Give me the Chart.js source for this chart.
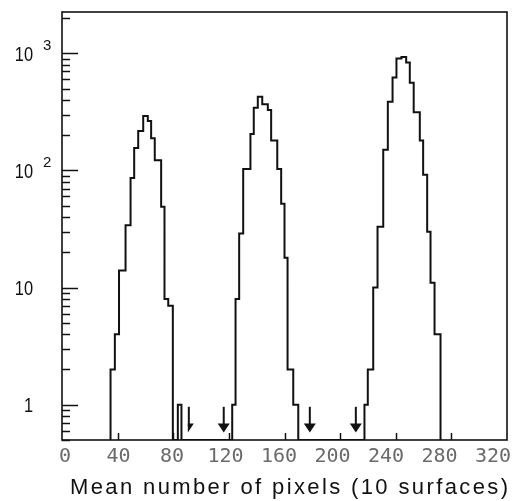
<!DOCTYPE html>
<html>
<head>
<meta charset="utf-8">
<title>Mean number of pixels (10 surfaces)</title>
<script src="https://cdn.jsdelivr.net/npm/chart.js@4.4.0/dist/chart.umd.min.js"></script>
<style>
  html, body { margin: 0; padding: 0; background: #fff; }
</style>
</head>
<body>
<canvas id="canvas" width="517" height="501"></canvas>
<script>
// histogram bins: left/right edges and counts per bin
var peak1Edges = [34.9, 38.0, 41.0, 45.7, 49.3, 51.9, 54.8, 58.4, 61.7, 64.1, 66.7, 71.3, 73.7, 76.4, 79.7];
var peak1Counts = [2, 4, 14, 34, 86, 155, 217, 291, 264, 188, 122, 49, 8, 7];

var strayEdges = [83.3, 85.9];
var strayCounts = [1];

var peak2Edges = [122.4, 124.8, 127.4, 130.3, 135.5, 137.9, 140.8, 144.0, 148.0, 150.4, 154.8, 157.6, 160.0, 162.2, 166.3, 169.9];
var peak2Counts = [1, 8, 29, 103, 205, 343, 425, 367, 328, 180, 103, 52, 18, 2, 1];

var peak3Edges = [217.5, 219.9, 223.8, 226.9, 231.0, 234.3, 237.7, 240.5, 244.1, 247.5, 250.1, 252.9, 257.3, 259.7, 262.6, 265.0, 267.9, 272.2];
var peak3Counts = [1, 2, 10, 33, 150, 385, 621, 902, 930, 834, 560, 313, 180, 92, 30, 11, 4];

// arrows under the gaps
var arrowX = [91.2, 116.3, 178.2, 211.3];
var arrowTop = 0.96;
var arrowTip = 0.58;

var xTickValues = [0, 40, 80, 120, 160, 200, 240, 280, 320];
var yTickValues = [1, 10, 100, 1000];
var xMin = 0, xMax = 320;
var yMin = 0.5, yMax = 2250;
var xTitle = 'Mean number of pixels (10 surfaces)';


window.onload = function() {

    var segments = [
        [peak1Edges, peak1Counts],
        [strayEdges, strayCounts],
        [peak2Edges, peak2Counts],
        [peak3Edges, peak3Counts]
    ];

    // step outline, empty bins sit on the axis
    var points = [];
    segments.forEach(function(seg) {
        var edges = seg[0], counts = seg[1];
        points.push({x: edges[0], y: yMin});
        for (var i = 0; i < counts.length; i++) {
            points.push({x: edges[i], y: counts[i]});
            points.push({x: edges[i + 1], y: counts[i]});
        }
        points.push({x: edges[edges.length - 1], y: yMin});
    });

    var axesPlugin = {
        id: 'axesPlugin',
        afterDraw: function(chart) {
            var ctx = chart.ctx;
            var a = chart.chartArea;
            var xs = chart.scales.x;
            var ys = chart.scales.y;

            ctx.save();
            ctx.strokeStyle = '#111';
            ctx.fillStyle = '#111';
            ctx.lineWidth = 1.6;
            ctx.strokeRect(a.left, a.top, a.right - a.left, a.bottom - a.top);

            // inward ticks on the log axis
            ctx.lineWidth = 1.5;
            [0.1, 1, 10, 100, 1000].forEach(function(d) {
                for (var m = 1; m <= 9; m++) {
                    var v = m * d;
                    if (v < yMin || v > yMax) continue;
                    var y = Math.round(ys.getPixelForValue(v)) + 0.5;
                    var len = m === 1 ? 16 : 8;
                    ctx.beginPath();
                    ctx.moveTo(a.left, y);
                    ctx.lineTo(a.left + len, y);
                    ctx.stroke();
                }
            });

            xTickValues.forEach(function(v) {
                if (v === xMin || v === xMax) return;
                var x = Math.round(xs.getPixelForValue(v)) + 0.5;
                ctx.beginPath();
                ctx.moveTo(x, a.bottom);
                ctx.lineTo(x, a.bottom - 7);
                ctx.stroke();
            });

            // y labels, 10^n written with a raised exponent
            yTickValues.forEach(function(v) {
                var y = ys.getPixelForValue(v);
                var e = Math.round(Math.log10(v));
                var base = e < 2 ? String(v) : '10';
                ctx.save();
                ctx.translate(33, y + 7.5);
                ctx.scale(0.82, 1);
                ctx.font = '20px "Liberation Sans", Arial, sans-serif';
                ctx.textAlign = 'right';
                ctx.fillText(base, 0, 0);
                ctx.restore();
                if (e >= 2) {
                    ctx.font = '15px "Liberation Sans", Arial, sans-serif';
                    ctx.textAlign = 'left';
                    ctx.fillText(String(e), 43, y - 3);
                }
            });

            // x labels
            ctx.font = '20px "DejaVu Sans Mono", monospace';
            ctx.fillStyle = '#6a6a6a';
            ctx.textAlign = 'center';
            xTickValues.forEach(function(v) {
                var px = xs.getPixelForValue(v);
                var x = a.left + 3 + (px - a.left) * 0.962;
                ctx.fillText(String(v), x, 461.5);
            });

            // axis title, spread to the width it has in the figure
            ctx.fillStyle = '#111';
            ctx.font = '22px "Liberation Sans", Arial, sans-serif';
            ctx.textAlign = 'left';
            var titleLeft = 70, titleWidth = 438;
            if ('letterSpacing' in ctx) {
                ctx.letterSpacing = '0px';
                var w = ctx.measureText(xTitle).width;
                ctx.letterSpacing = ((titleWidth - w) / (xTitle.length - 1)) + 'px';
                ctx.fillText(xTitle, titleLeft, 494);
                ctx.letterSpacing = '0px';
            } else {
                var w2 = ctx.measureText(xTitle).width;
                ctx.save();
                ctx.translate(titleLeft, 494);
                ctx.scale(titleWidth / w2, 1);
                ctx.fillText(xTitle, 0, 0);
                ctx.restore();
            }

            // arrows, the first one has only half a head
            ctx.lineWidth = 2;
            arrowX.forEach(function(xv, i) {
                var x = xs.getPixelForValue(xv);
                var top = ys.getPixelForValue(arrowTop);
                var tip = ys.getPixelForValue(arrowTip);
                ctx.beginPath();
                ctx.moveTo(x, top);
                ctx.lineTo(x, tip - 6);
                ctx.stroke();
                ctx.beginPath();
                if (i === 0) {
                    ctx.moveTo(x - 1, tip - 9);
                    ctx.lineTo(x + 5, tip - 9);
                    ctx.lineTo(x - 1, tip);
                } else {
                    ctx.moveTo(x - 6, tip - 9);
                    ctx.lineTo(x + 6, tip - 9);
                    ctx.lineTo(x, tip);
                }
                ctx.closePath();
                ctx.fill();
            });

            ctx.restore();
        }
    };

    var ctx = document.getElementById('canvas').getContext('2d');
    window.myChart = new Chart(ctx, {
        type: 'line',
        data: {
            datasets: [{
                label: 'counts',
                data: points,
                borderColor: '#111',
                borderWidth: 2,
                pointRadius: 0,
                fill: false,
                tension: 0
            }]
        },
        options: {
            responsive: false,
            animation: false,
            devicePixelRatio: 1,
            layout: {
                padding: {left: 62, right: 10, top: 12, bottom: 61}
            },
            plugins: {
                legend: {display: false},
                tooltip: {enabled: false}
            },
            scales: {
                x: {type: 'linear', min: xMin, max: xMax, display: false},
                y: {type: 'logarithmic', min: yMin, max: yMax, display: false}
            }
        },
        plugins: [axesPlugin]
    });
};
</script>
</body>
</html>
